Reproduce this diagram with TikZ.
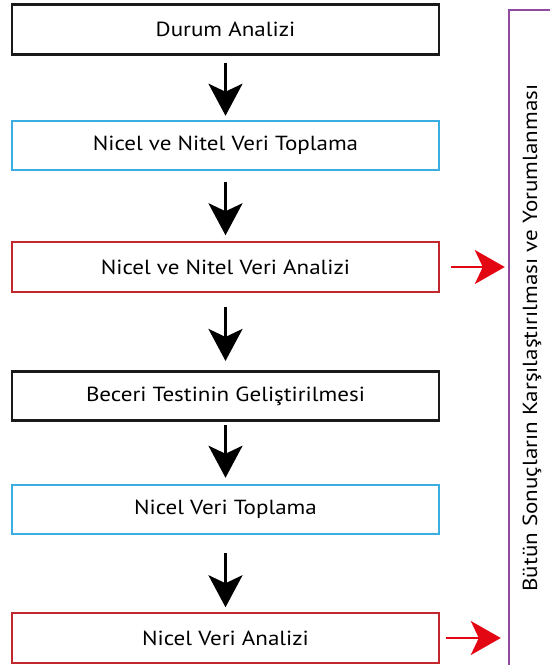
\documentclass[tikz,border=0pt]{standalone}
\usepackage{fontspec}
\setmainfont{PT Sans}[FakeStretch=1.13]
\usepackage{xcolor}
\usepackage{tikz}
\definecolor{stepBlack}{HTML}{1A1A1A}
\definecolor{collectBlue}{HTML}{3AAEE0}
\definecolor{analysisRed}{HTML}{C1272D}
\definecolor{pointerRed}{HTML}{E30613}
\definecolor{summaryPurple}{HTML}{8E4A9F}
\usetikzlibrary{arrows.meta}
\tikzstyle{block} = [rectangle, draw=stepBlack, line width=1.3pt, text centered, minimum width=213.5pt, minimum height=24.75pt, inner sep=0pt, font=\fontsize{10.2}{12}\selectfont]
\tikzstyle{blockCollect} = [block, draw=collectBlue, line width=1pt]
\tikzstyle{blockAnalysis} = [block, draw=analysisRed, line width=1pt]
\tikzstyle{blockSummary} = [rectangle, draw=summaryPurple, line width=1.2pt, minimum width=23pt, minimum height=328pt, inner sep=0pt, font=\fontsize{10.2}{12}\selectfont]
\tikzstyle{line} = [line width=1.5pt, -{Stealth[length=16pt, width=17pt, inset=4pt]}]
\tikzstyle{pointer} = [line width=1.1pt, pointerRed, -{Stealth[length=15pt, width=17pt, inset=4pt]}]

\begin{document}
\begin{tikzpicture}[node distance = 60pt]
        \clip (0,0) rectangle (275pt,-332.5pt);
        \node(durum) [block] at (112.75pt,-14.75pt) {Durum Analizi};
        \node(toplama) [blockCollect, below of = durum, node distance = 58pt] {Nicel ve Nitel Veri Toplama};
        \node(analiz) [blockAnalysis, below of = toplama, node distance = 60.75pt] {Nicel ve Nitel Veri Analizi};
        \node(test) [block, below of = analiz, node distance = 64.5pt] {Beceri Testinin Geliştirilmesi};
        \node(nicelToplama) [blockCollect, below of = test, node distance = 56.75pt] {Nicel Veri Toplama};
        \node(nicelAnaliz) [blockAnalysis, below of = nicelToplama, node distance = 64.25pt] {Nicel Veri Analizi};
        \node(sonuc) [blockSummary] at (266pt,-169pt) {\rotatebox{90}{Bütün Sonuçların Karşılaştırılması ve Yorumlanması}};
        \draw[line, shorten <= 3.5pt, shorten >= 2pt] (durum) -- (toplama);
        \draw[line, shorten <= 5.5pt, shorten >= 3pt] (toplama) -- (analiz);
        \draw[line, shorten <= 7pt, shorten >= 4.5pt] (analiz) -- (test);
        \draw[line, shorten <= 1.5pt, shorten >= 3pt] (test) -- (nicelToplama);
        \draw[line, shorten <= 9pt, shorten >= 2.5pt] (nicelToplama) -- (nicelAnaliz);
        \draw[pointer, shorten <= 5.5pt, shorten >= 1.5pt] (analiz.east) -- (analiz.east -| sonuc.west);
        \draw[pointer, shorten <= 3pt, shorten >= 3.5pt] (nicelAnaliz.east) -- (nicelAnaliz.east -| sonuc.west);
    \end{tikzpicture}
\end{document}
